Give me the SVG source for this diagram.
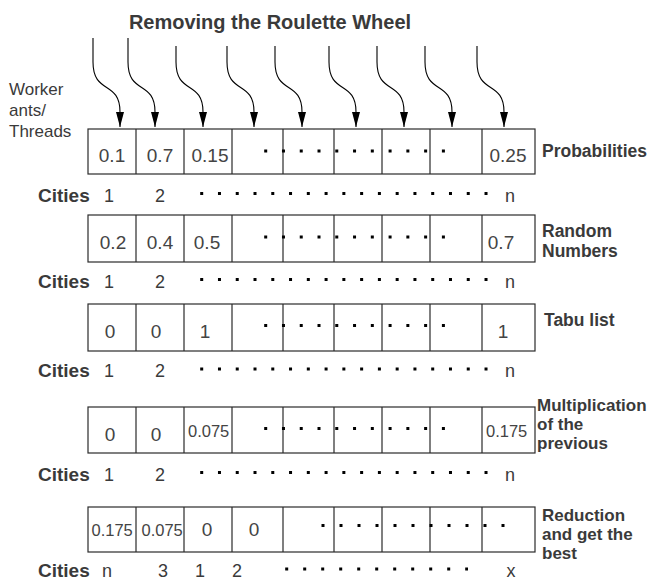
<svg xmlns="http://www.w3.org/2000/svg" width="654" height="581" viewBox="0 0 654 581">
<defs>
<marker id="ah" viewBox="0 0 15 8" refX="15" refY="4" markerWidth="15" markerHeight="8" markerUnits="userSpaceOnUse" orient="auto">
<path d="M0,0 L15,4 L0,8 z" fill="#000"/>
</marker>
</defs>
<style>
text{font-family:"Liberation Sans",Arial,sans-serif;fill:#3a3a3a}
.title{font-size:20px;font-weight:bold;text-anchor:middle}
.lbl{font-size:17.5px;font-weight:bold}
.lbl2{font-size:17px;font-weight:bold}
.cit{font-size:19px;font-weight:bold}
.cn{font-size:18px;text-anchor:middle}
.num{font-size:19px;text-anchor:middle;fill:#444}
.sm{font-size:16.5px;fill:#444}
.wk{font-size:17px}
.box{fill:#fff;stroke:#2b2b2b;stroke-width:1.2}
.div{stroke:#2b2b2b;stroke-width:1.2}
.dots{stroke:#000;stroke-width:3;stroke-dasharray:3 14.77}
.dots5{stroke:#000;stroke-width:3;stroke-dasharray:3 15}
.arr{fill:none;stroke:#000;stroke-width:1.1;marker-end:url(#ah)}
</style>
<text class="title" x="270" y="29">Removing the Roulette Wheel</text>
<g id="workers">
<text class="wk" x="9" y="95">Worker</text>
<text class="wk" x="9" y="116">ants/</text>
<text class="wk" x="9" y="137">Threads</text>
</g>
<g id="connectors">
<path class="arr" d="M93,38 L93,62 C93,95 120,80 120,112 L120,127"/>
<path class="arr" d="M128,38 L128,62 C128,95 155,80 155,112 L155,127"/>
<path class="arr" d="M176,46 L176,62 C176,95 203,80 203,112 L203,127"/>
<path class="arr" d="M227,46 L227,62 C227,95 254,80 254,112 L254,127"/>
<path class="arr" d="M275,46 L275,62 C275,95 302,80 302,112 L302,127"/>
<path class="arr" d="M329,46 L329,62 C329,95 356,80 356,112 L356,127"/>
<path class="arr" d="M377,46 L377,62 C377,95 404,80 404,112 L404,127"/>
<path class="arr" d="M425,46 L425,62 C425,95 452,80 452,112 L452,127"/>
<path class="arr" d="M477,46 L477,62 C477,95 504,80 504,112 L504,127"/>
</g>
<g id="row1">
<rect class="box" x="88" y="129" width="447" height="45"/>
<path class="div" d="M136,129V174M184,129V174M232,129V174M283,129V174M334,129V174M382,129V174M430,129V174M482,129V174"/>
<line class="dots" x1="264.2" y1="151" x2="446" y2="151"/>
<text class="num" x="112" y="161.5">0.1</text>
<text class="num" x="160" y="161.5">0.7</text>
<text class="num" x="210" y="161.5">0.15</text>
<text class="num" x="508" y="161.5">0.25</text>
<text class="lbl" x="542" y="157">Probabilities</text>
</g>
<g id="cities1">
<text class="cit" x="38" y="202">Cities</text>
<text class="cn" x="109" y="202">1</text>
<text class="cn" x="160" y="202">2</text>
<line class="dots" x1="200.2" y1="193.5" x2="488" y2="193.5"/>
<text class="cn" x="510" y="202">n</text>
</g>
<g id="row2">
<rect class="box" x="88" y="215" width="447" height="47"/>
<path class="div" d="M136,215V262M184,215V262M232,215V262M283,215V262M334,215V262M382,215V262M430,215V262M482,215V262"/>
<line class="dots" x1="264.2" y1="237" x2="446" y2="237"/>
<text class="num" x="113" y="249">0.2</text>
<text class="num" x="160" y="249">0.4</text>
<text class="num" x="207" y="249">0.5</text>
<text class="num" x="501" y="249">0.7</text>
<text class="lbl" x="542" y="237">Random</text>
<text class="lbl" x="542" y="257">Numbers</text>
</g>
<g id="cities2">
<text class="cit" x="38" y="288">Cities</text>
<text class="cn" x="109" y="288">1</text>
<text class="cn" x="160" y="288">2</text>
<line class="dots" x1="200.2" y1="279.5" x2="488" y2="279.5"/>
<text class="cn" x="510" y="288">n</text>
</g>
<g id="row3">
<rect class="box" x="88" y="304" width="447" height="47"/>
<path class="div" d="M136,304V351M184,304V351M232,304V351M283,304V351M334,304V351M382,304V351M430,304V351M482,304V351"/>
<line class="dots" x1="264.2" y1="325.5" x2="446" y2="325.5"/>
<text class="num" x="110" y="338">0</text>
<text class="num" x="156" y="338">0</text>
<text class="num" x="205" y="338">1</text>
<text class="num" x="503" y="338">1</text>
<text class="lbl" x="544" y="326">Tabu list</text>
</g>
<g id="cities3">
<text class="cit" x="38" y="377">Cities</text>
<text class="cn" x="109" y="377">1</text>
<text class="cn" x="160" y="377">2</text>
<line class="dots" x1="200.2" y1="369" x2="488" y2="369"/>
<text class="cn" x="510" y="377">n</text>
</g>
<g id="row4">
<rect class="box" x="88" y="407" width="447" height="46"/>
<path class="div" d="M136,407V453M184,407V453M232,407V453M283,407V453M334,407V453M382,407V453M430,407V453M482,407V453"/>
<line class="dots" x1="264.2" y1="428.5" x2="446" y2="428.5"/>
<text class="num" x="110" y="440.5">0</text>
<text class="num" x="156" y="440.5">0</text>
<text class="sm" x="188" y="437">0.075</text>
<text class="sm" x="486" y="437">0.175</text>
<text class="lbl2" x="537" y="411">Multiplication</text>
<text class="lbl2" x="537" y="430">of the</text>
<text class="lbl2" x="537" y="449">previous</text>
</g>
<g id="cities4">
<text class="cit" x="38" y="481">Cities</text>
<text class="cn" x="109" y="481">1</text>
<text class="cn" x="160" y="481">2</text>
<line class="dots" x1="200.2" y1="472.5" x2="488" y2="472.5"/>
<text class="cn" x="510" y="481">n</text>
</g>
<g id="row5">
<rect class="box" x="88" y="507" width="447" height="45"/>
<path class="div" d="M136,507V552M184,507V552M232,507V552M283,507V552M334,507V552M382,507V552M430,507V552M482,507V552"/>
<line class="dots5" x1="321.5" y1="525.5" x2="506" y2="525.5"/>
<text class="sm" x="91.5" y="536">0.175</text>
<text class="sm" x="141.5" y="536">0.075</text>
<text class="num" x="207" y="536">0</text>
<text class="num" x="254" y="536">0</text>
<text class="lbl2" x="542" y="521">Reduction</text>
<text class="lbl2" x="542" y="540">and get the</text>
<text class="lbl2" x="542" y="559">best</text>
</g>
<g id="cities5">
<text class="cit" x="38" y="577">Cities</text>
<text class="cn" x="107" y="577">n</text>
<text class="cn" x="163" y="577">3</text>
<text class="cn" x="200" y="577">1</text>
<text class="cn" x="237" y="577">2</text>
<line class="dots5" x1="285.2" y1="569" x2="468" y2="569"/>
<text class="cn" x="511" y="577">x</text>
</g>
</svg>
